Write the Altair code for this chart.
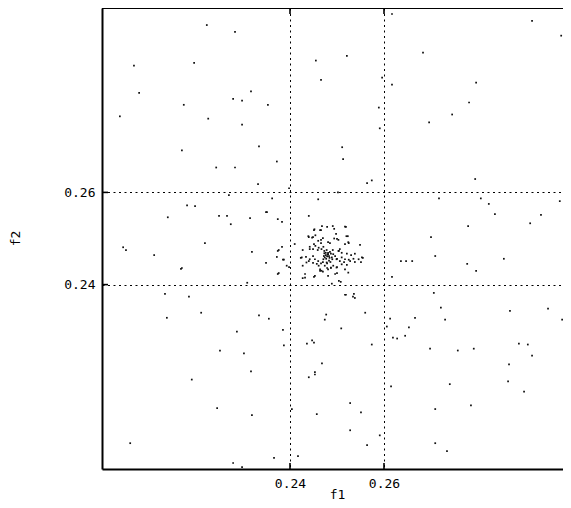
import altair as alt
import pandas as pd

# Scattered background points (f1, f2)
f1_scatter = [0.2068, 0.2196, 0.2079, 0.2174, 0.2038, 0.2170, 0.2223, 0.2283, 0.2521, 0.2455,
              0.2466, 0.2596, 0.2617, 0.2317, 0.2279, 0.2298, 0.2353, 0.2589, 0.2226, 0.2298,
              0.2591, 0.2334, 0.2511, 0.2372, 0.2513, 0.2243, 0.2283, 0.2617, 0.2915, 0.2977,
              0.2683, 0.2796, 0.2781, 0.2745, 0.2696, 0.2794, 0.2717, 0.2806, 0.2974, 0.2823,
              0.2836, 0.2934, 0.2911, 0.2779, 0.2991, 0.2700, 0.2709, 0.2855, 0.2636, 0.2647,
              0.2660, 0.2777, 0.2796, 0.2617, 0.2706, 0.2721, 0.2868, 0.2949, 0.2613, 0.2666,
              0.2730, 0.2979, 0.2181, 0.2198, 0.2140, 0.2045, 0.2051, 0.2111, 0.2168, 0.2134,
              0.2185, 0.2138, 0.2574, 0.2564, 0.2332, 0.2398, 0.2270, 0.2362, 0.2460, 0.2502,
              0.2349, 0.2249, 0.2266, 0.2315, 0.2274, 0.2219, 0.2170, 0.2309, 0.2211, 0.2334,
              0.2355, 0.2477, 0.2474, 0.2517, 0.2534, 0.2560, 0.2287, 0.2385, 0.2387, 0.2251,
              0.2302, 0.2436, 0.2447, 0.2451, 0.2468, 0.2317, 0.2191, 0.2453, 0.2453, 0.2440,
              0.2245, 0.2319, 0.2404, 0.2457, 0.2060, 0.2366, 0.2417, 0.2279, 0.2298, 0.2509,
              0.2606, 0.2653, 0.2983, 0.2574, 0.2619, 0.2628, 0.2645, 0.2698, 0.2757, 0.2791,
              0.2887, 0.2906, 0.2915, 0.2866, 0.2864, 0.2898, 0.2615, 0.2740, 0.2528, 0.2551,
              0.2785, 0.2709, 0.2528, 0.2591, 0.2564, 0.2709, 0.2734]
f2_scatter = [0.2875, 0.2881, 0.2816, 0.2790, 0.2765, 0.2691, 0.2963, 0.2948, 0.2896, 0.2886,
              0.2844, 0.2849, 0.2834, 0.2819, 0.2803, 0.2799, 0.2790, 0.2784, 0.2760, 0.2747,
              0.2739, 0.2700, 0.2698, 0.2667, 0.2672, 0.2654, 0.2654, 0.2987, 0.2972, 0.2940,
              0.2903, 0.2838, 0.2795, 0.2769, 0.2752, 0.2629, 0.2587, 0.2587, 0.2581, 0.2575,
              0.2553, 0.2551, 0.2533, 0.2527, 0.2523, 0.2503, 0.2462, 0.2456, 0.2451, 0.2451,
              0.2451, 0.2445, 0.2430, 0.2417, 0.2382, 0.2350, 0.2343, 0.2348, 0.2326, 0.2328,
              0.2324, 0.2324, 0.2572, 0.2570, 0.2546, 0.2481, 0.2475, 0.2464, 0.2434, 0.2380,
              0.2374, 0.2328, 0.2626, 0.2620, 0.2618, 0.2609, 0.2594, 0.2587, 0.2585, 0.2600,
              0.2557, 0.2549, 0.2549, 0.2544, 0.2531, 0.2490, 0.2436, 0.2404, 0.2339, 0.2333,
              0.2326, 0.2335, 0.2324, 0.2378, 0.2374, 0.2339, 0.2298, 0.2302, 0.2268, 0.2257,
              0.2251, 0.2272, 0.2279, 0.2274, 0.2229, 0.2212, 0.2194, 0.2210, 0.2205, 0.2199,
              0.2132, 0.2117, 0.2130, 0.2119, 0.2056, 0.2024, 0.2028, 0.2013, 0.2004, 0.2305,
              0.2309, 0.2307, 0.2287, 0.2270, 0.2285, 0.2283, 0.2289, 0.2261, 0.2257, 0.2261,
              0.2272, 0.2270, 0.2246, 0.2227, 0.2190, 0.2168, 0.2179, 0.2184, 0.2143, 0.2123,
              0.2138, 0.2130, 0.2084, 0.2073, 0.2052, 0.2056, 0.2039]

# Dense cluster points (f1, f2)
f1_cluster = [0.2452, 0.2466, 0.2479, 0.2494, 0.2517, 0.2439, 0.2447, 0.2454, 0.2460, 0.2466,
              0.2481, 0.2494, 0.2503, 0.2520, 0.2524, 0.2442, 0.2449, 0.2454, 0.2459, 0.2461,
              0.2467, 0.2471, 0.2473, 0.2476, 0.2478, 0.2481, 0.2483, 0.2485, 0.2489, 0.2492,
              0.2496, 0.2499, 0.2503, 0.2506, 0.2510, 0.2517, 0.2528, 0.2535, 0.2546, 0.2553,
              0.2425, 0.2435, 0.2442, 0.2449, 0.2453, 0.2460, 0.2466, 0.2471, 0.2474, 0.2478,
              0.2481, 0.2487, 0.2492, 0.2464, 0.2467, 0.2499, 0.2510, 0.2517, 0.2496, 0.2481,
              0.2453, 0.2432, 0.2524, 0.2473, 0.2476, 0.2479, 0.2481, 0.2484, 0.2487, 0.2490,
              0.2477, 0.2472, 0.2480, 0.2474, 0.2483, 0.2486, 0.2479, 0.2470,
              0.2351, 0.2374, 0.2383, 0.2440, 0.2468, 0.2491, 0.2519, 0.2410, 0.2383, 0.2319,
              0.2374, 0.2385, 0.2349, 0.2393, 0.2398, 0.2374, 0.2536, 0.2538, 0.2519, 0.2504,
              0.2508, 0.2489, 0.2427, 0.2451, 0.2464, 0.2498, 0.2523, 0.2440, 0.2449, 0.2470,
              0.2500, 0.2517, 0.2525, 0.2549, 0.2451, 0.2466, 0.2485, 0.2491, 0.2427, 0.2442,
              0.2504, 0.2510, 0.2521, 0.2530, 0.2538, 0.2423, 0.2434, 0.2440, 0.2449, 0.2457,
              0.2500, 0.2506, 0.2515, 0.2525, 0.2538, 0.2551, 0.2555, 0.2427, 0.2461, 0.2487,
              0.2500, 0.2521, 0.2432, 0.2464, 0.2470, 0.2479, 0.2500, 0.2376, 0.2372, 0.2387,
              0.2376, 0.2451]
f2_cluster = [0.2520, 0.2518, 0.2525, 0.2521, 0.2526, 0.2505, 0.2502, 0.2507, 0.2495, 0.2497,
              0.2492, 0.2500, 0.2497, 0.2505, 0.2492, 0.2482, 0.2477, 0.2484, 0.2475, 0.2480,
              0.2477, 0.2482, 0.2473, 0.2469, 0.2475, 0.2466, 0.2462, 0.2471, 0.2459, 0.2466,
              0.2462, 0.2455, 0.2473, 0.2477, 0.2459, 0.2455, 0.2451, 0.2456, 0.2455, 0.2459,
              0.2459, 0.2448, 0.2455, 0.2462, 0.2455, 0.2451, 0.2446, 0.2455, 0.2441, 0.2448,
              0.2433, 0.2437, 0.2441, 0.2433, 0.2430, 0.2437, 0.2444, 0.2433, 0.2423, 0.2419,
              0.2419, 0.2415, 0.2426, 0.2468, 0.2464, 0.2461, 0.2469, 0.2458, 0.2467, 0.2455,
              0.2456, 0.2462, 0.2465, 0.2459, 0.2452, 0.2449, 0.2446, 0.2449,
              0.2557, 0.2542, 0.2536, 0.2549, 0.2527, 0.2527, 0.2525, 0.2488, 0.2482, 0.2471,
              0.2473, 0.2454, 0.2447, 0.2441, 0.2438, 0.2423, 0.2380, 0.2371, 0.2378, 0.2408,
              0.2406, 0.2402, 0.2414, 0.2518, 0.2518, 0.2510, 0.2505, 0.2503, 0.2503, 0.2501,
              0.2499, 0.2488, 0.2490, 0.2486, 0.2488, 0.2490, 0.2490, 0.2475, 0.2475, 0.2477,
              0.2473, 0.2469, 0.2467, 0.2464, 0.2467, 0.2458, 0.2460, 0.2451, 0.2447, 0.2445,
              0.2456, 0.2451, 0.2449, 0.2454, 0.2449, 0.2449, 0.2458, 0.2441, 0.2441, 0.2436,
              0.2438, 0.2443, 0.2423, 0.2430, 0.2428, 0.2436, 0.2425, 0.2475, 0.2460, 0.2454,
              0.2425, 0.2417]

tick_values = [0.24, 0.26]

df = pd.DataFrame({
    "f1": f1_scatter + f1_cluster,
    "f2": f2_scatter + f2_cluster,
})
ticks_df = pd.DataFrame({"v": tick_values})

W, H = 461, 461          # visible plot size inside the page
XR = 470                 # x range runs past the right page edge, as in the reference
MONO = "DejaVu Sans Mono"
dom = [0.2, 0.3]
LW = 2

xscale = alt.Scale(domain=dom, nice=False, zero=False, range=[0, XR])
yscale = alt.Scale(domain=dom, nice=False, zero=False)

xaxis = alt.Axis(values=tick_values, format=".2f", ticks=False, grid=True,
                 gridDash=[2, 3.5], gridColor="black", gridOpacity=1, gridWidth=1,
                 domainColor="black", domainWidth=LW, labelFont=MONO, labelFontSize=13,
                 labelColor="black", labelPadding=8, title="f1", titleFont=MONO,
                 titleFontSize=13, titleFontWeight="normal", titleColor="black",
                 titleX=235, titleY=25, titleBaseline="middle", titleAlign="center")
yaxis = alt.Axis(values=tick_values, format=".2f", ticks=False, grid=True,
                 gridDash=[2, 3.5], gridColor="black", gridOpacity=1, gridWidth=1,
                 domainColor="black", domainWidth=LW, labelFont=MONO, labelFontSize=13,
                 labelColor="black", labelPadding=7, title="f2", titleFont=MONO,
                 titleFontSize=13, titleFontWeight="normal", titleColor="black",
                 titleAngle=270, titleX=-87, titleY=230, titleBaseline="middle",
                 titleAlign="center")

points = alt.Chart(df).mark_square(size=3, color="#111111", opacity=1).encode(
    x=alt.X("f1:Q", scale=xscale, axis=xaxis),
    y=alt.Y("f2:Q", scale=yscale, axis=yaxis),
)

top_frame = alt.Chart(ticks_df).mark_rule(color="black", strokeWidth=LW).encode(
    x=alt.value(0), x2=alt.value(XR), y=alt.value(0)
)

xt_bottom = alt.Chart(ticks_df).mark_rule(color="black", strokeWidth=1.6).encode(
    x=alt.X("v:Q", scale=xscale), y=alt.value(H), y2=alt.value(H - 6)
)
xt_top = alt.Chart(ticks_df).mark_rule(color="black", strokeWidth=1.6).encode(
    x=alt.X("v:Q", scale=xscale), y=alt.value(0), y2=alt.value(6)
)
yt_left = alt.Chart(ticks_df).mark_rule(color="black", strokeWidth=1.6).encode(
    y=alt.Y("v:Q", scale=yscale), x=alt.value(0), x2=alt.value(6)
)

chart = alt.layer(points, top_frame, xt_bottom, xt_top, yt_left).properties(
    width=W, height=H,
    autosize=alt.AutoSizeParams(type="none"),
    padding={"left": 94, "top": 0, "right": 0, "bottom": 31},
    background="white",
).configure_view(stroke=None)

chart.save("out.html", embed_options={"renderer": "svg", "actions": False})
